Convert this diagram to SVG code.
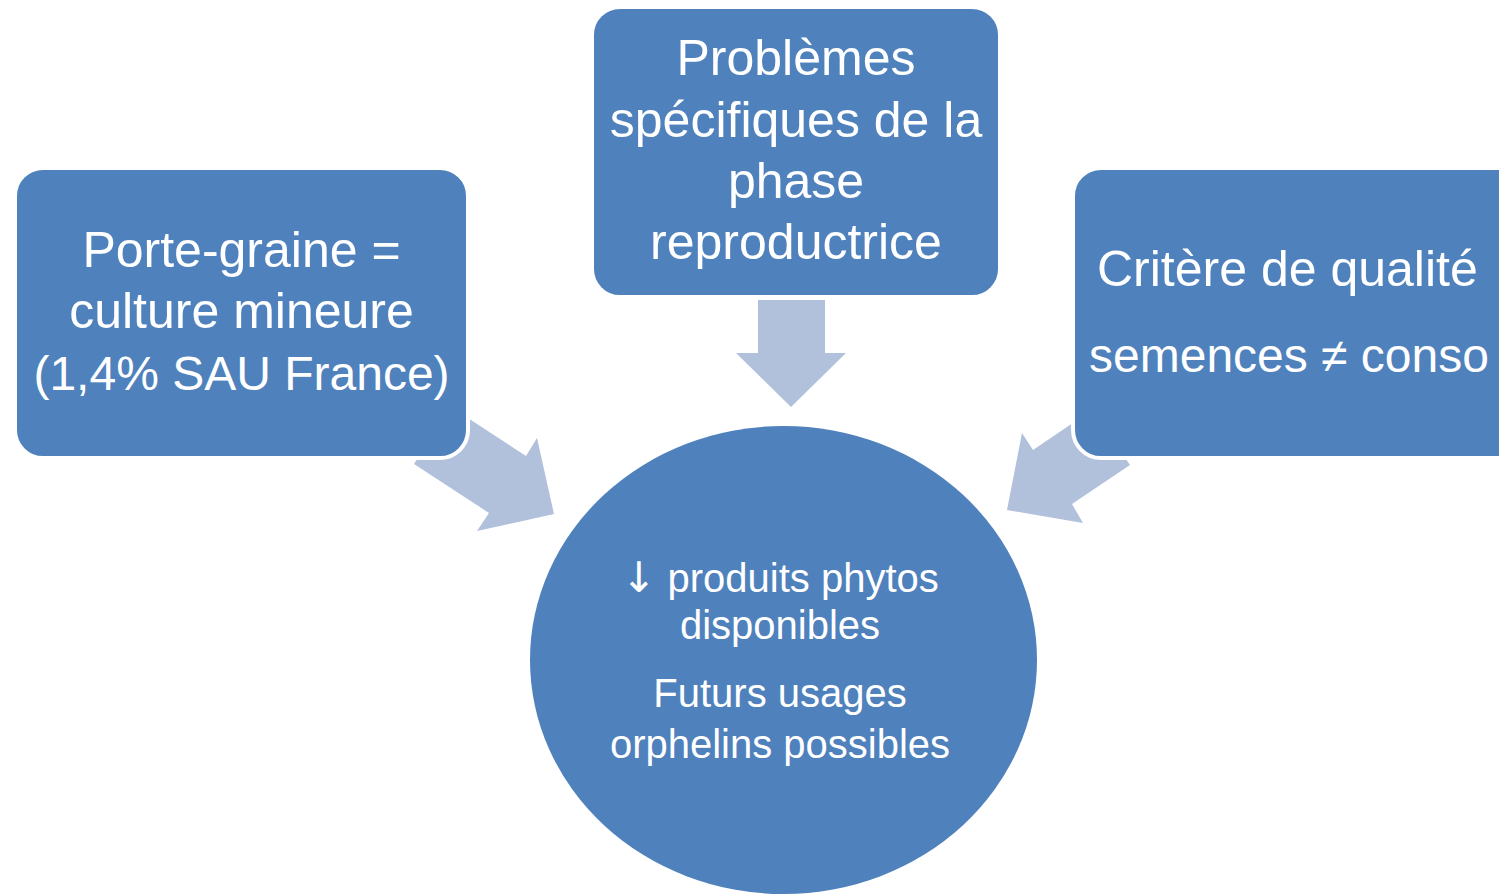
<svg xmlns="http://www.w3.org/2000/svg" width="1499" height="896" viewBox="0 0 1499 896">
  <style>
    .box { fill: #4F81BD; stroke: #FFFFFF; stroke-width: 4; }
    .arrow { fill: #B1C1DC; stroke: none; }
    .t { fill: #FFFFFF; font-family: "Liberation Sans", Arial, sans-serif; }
    .c { text-anchor: middle; }
    .big { font-size: 50px; }
    .mid { font-size: 40px; }
    .sym { font-family: "DejaVu Sans", "Liberation Sans", sans-serif; }
  </style>
  <rect width="1499" height="896" fill="#FFFFFF"/>
  <g id="connectors">
    <polygon class="arrow" points="758,300 825,300 825,353 846,353 791,407 736,353 758,353"/>
    <polygon class="arrow" points="451,407 526,456 537,438 554,514 477,531 489,513 414,464"/>
    <polygon class="arrow" points="1092,410 1033,450 1022,433 1007,510 1083,523 1072,504 1130,465"/>
  </g>
  <g id="node-left">
    <rect class="box" x="15" y="168" width="453" height="290" rx="28" ry="28"/>
    <text class="t big c" x="241.5" y="267">Porte-graine =</text>
    <text class="t big c" x="241.5" y="328" font-size="51">culture mineure</text>
    <text class="t big c" x="241.5" y="390" style="font-size:48px">(1,4% SAU France)</text>
  </g>
  <g id="node-top">
    <rect class="box" x="592" y="7" width="408" height="290" rx="28" ry="28"/>
    <text class="t big c" x="796" y="75">Problèmes</text>
    <text class="t big c" x="796" y="137">spécifiques de la</text>
    <text class="t big c" x="796" y="198">phase</text>
    <text class="t big c" x="796" y="259">reproductrice</text>
  </g>
  <g id="node-right">
    <rect class="box" x="1073" y="168" width="460" height="290" rx="28" ry="28"/>
    <text class="t big" x="1097" y="286">Critère de qualité</text>
    <text class="t" x="1089" y="372" style="font-size:48px">semences ≠ conso</text>
  </g>
  <g id="node-center">
    <ellipse cx="783.5" cy="660" rx="253.5" ry="234" fill="#4F81BD"/>
    <text class="t mid c" x="780" y="592"><tspan class="sym" style="font-size:42px">↓</tspan> produits phytos</text>
    <text class="t mid c" x="780" y="639">disponibles</text>
    <text class="t mid c" x="780" y="707">Futurs usages</text>
    <text class="t mid c" x="780" y="758">orphelins possibles</text>
  </g>
</svg>
